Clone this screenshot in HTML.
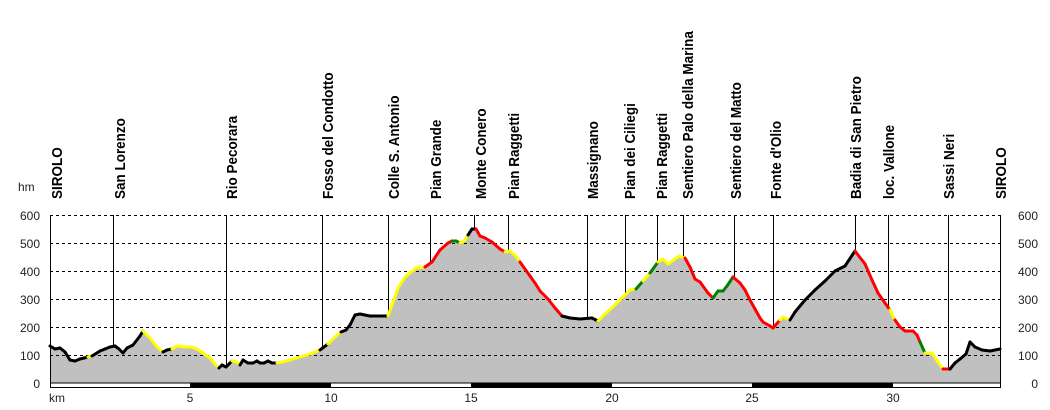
<!DOCTYPE html>
<html><head><meta charset="utf-8"><style>
html,body{margin:0;padding:0;background:#fff;}
svg{display:block;}
.t{font-family:"Liberation Sans",sans-serif;font-size:12px;fill:#222;}
.l{font-family:"Liberation Sans",sans-serif;font-size:15px;font-weight:bold;fill:#000;}
</style></head><body>
<svg width="1050" height="410" viewBox="0 0 1050 410" xmlns="http://www.w3.org/2000/svg">
<rect width="1050" height="410" fill="#fff"/>
<polygon id="fill" fill="#c0c0c0" points=""/>
<g stroke="#000" stroke-width="1" stroke-dasharray="3,3">
<line x1="50" y1="215.5" x2="1000" y2="215.5"/>
<line x1="50" y1="243.5" x2="1000" y2="243.5"/>
<line x1="50" y1="271.5" x2="1000" y2="271.5"/>
<line x1="50" y1="299.5" x2="1000" y2="299.5"/>
<line x1="50" y1="327.5" x2="1000" y2="327.5"/>
<line x1="50" y1="355.5" x2="1000" y2="355.5"/>
</g>
<g id="vl" stroke="#000" stroke-width="1"></g>
<g id="prof" fill="none" stroke-width="3" stroke-linejoin="round" stroke-linecap="round"></g>
<line x1="50.5" y1="215" x2="50.5" y2="388" stroke="#000"/>
<line x1="1000.5" y1="215" x2="1000.5" y2="388" stroke="#000"/>
<rect x="50.5" y="383" width="950" height="4.5" fill="#fff" stroke="#000" stroke-width="1"/>
<rect x="190" y="383" width="141" height="5" fill="#000"/>
<rect x="471" y="383" width="141" height="5" fill="#000"/>
<rect x="752" y="383" width="141" height="5" fill="#000"/>
<g class="t" text-anchor="end">
<text x="40" y="220">600</text><text x="40" y="248">500</text><text x="40" y="276">400</text>
<text x="40" y="304">300</text><text x="40" y="332">200</text><text x="40" y="360">100</text><text x="40" y="388">0</text>
</g>
<g class="t" text-anchor="end">
<text x="1038" y="220">600</text><text x="1038" y="248">500</text><text x="1038" y="276">400</text>
<text x="1038" y="304">300</text><text x="1038" y="332">200</text><text x="1038" y="360">100</text><text x="1038" y="388">0</text>
</g>
<text class="t" x="18" y="191">hm</text>
<g class="t" text-anchor="middle">
<text x="57" y="402">km</text><text x="190" y="402">5</text><text x="331" y="402">10</text>
<text x="471" y="402">15</text><text x="612" y="402">20</text><text x="752" y="402">25</text><text x="893" y="402">30</text>
</g>
<g id="labels"></g>
</svg>
<script>
var P=[[50,346,'k'],[55,349,'k'],[60,348,'k'],[65,352,'k'],[70,360,'k'],[75,361,'k'],[80,359,'k'],[88,357,'y'],[92,356,'k'],[100,351,'k'],[105,349,'k'],[110,347,'k'],[115,346,'k'],[119,349,'k'],[123,353,'k'],[127,348,'k'],[133,345,'k'],[140,336,'k'],[143,331,'y'],[150,338,'y'],[157,347,'y'],[163,352,'k'],[167,350,'k'],[172,349,'y'],[177,346,'y'],[185,347,'y'],[192,347,'y'],[197,349,'y'],[203,353,'y'],[210,358,'y'],[215,364,'y'],[219,368,'k'],[222,365,'k'],[226,367,'k'],[229,364,'k'],[232,361,'y'],[237,362,'y'],[240,365,'k'],[243,360,'k'],[248,363,'k'],[253,363,'k'],[257,361,'k'],[260,363,'k'],[264,363,'k'],[268,361,'k'],[272,363,'k'],[277,363,'y'],[282,362,'y'],[290,360,'y'],[300,357,'y'],[310,354,'y'],[320,350,'k'],[328,344,'y'],[335,337,'y'],[341,332,'k'],[346,330,'k'],[350,325,'k'],[355,315,'k'],[360,314,'k'],[370,316,'k'],[380,316,'k'],[388,316,'y'],[393,302,'y'],[398,288,'y'],[405,277,'y'],[416,268,'y'],[425,267,'r'],[432,262,'r'],[440,250,'r'],[448,243,'r'],[452,241,'g'],[456,241,'g'],[460,243,'y'],[465,240,'y'],[468,235,'k'],[472,229,'k'],[476,229,'r'],[480,236,'r'],[485,238,'r'],[492,242,'r'],[500,249,'r'],[505,252,'y'],[510,251,'y'],[515,255,'y'],[520,262,'r'],[530,276,'r'],[535,283,'r'],[540,291,'r'],[548,299,'r'],[555,308,'r'],[562,316,'k'],[570,318,'k'],[580,319,'k'],[592,318,'k'],[598,321,'y'],[605,314,'y'],[615,305,'y'],[622,298,'y'],[630,290,'y'],[636,289,'g'],[643,281,'y'],[650,273,'g'],[658,262,'y'],[663,259,'y'],[668,264,'y'],[675,259,'y'],[679,256,'y'],[685,258,'r'],[690,267,'r'],[695,279,'r'],[700,282,'r'],[708,293,'r'],[713,298,'g'],[718,291,'g'],[723,291,'g'],[727,286,'g'],[733,277,'r'],[740,283,'r'],[745,290,'r'],[750,300,'r'],[755,309,'r'],[760,318,'r'],[763,322,'r'],[770,326,'r'],[773,328,'r'],[780,320,'y'],[783,317,'y'],[790,320,'k'],[795,312,'k'],[805,300,'k'],[815,290,'k'],[825,281,'k'],[835,271,'k'],[845,266,'k'],[855,251,'r'],[865,264,'r'],[872,280,'r'],[878,293,'r'],[885,303,'r'],[890,310,'y'],[895,320,'r'],[900,327,'r'],[905,331,'r'],[913,331,'r'],[917,335,'r'],[920,342,'g'],[925,353,'y'],[932,353,'y'],[938,362,'y'],[943,369,'r'],[950,369,'k'],[955,363,'k'],[960,359,'k'],[966,354,'k'],[970,342,'k'],[975,347,'k'],[982,350,'k'],[990,351,'k'],[1000,349,'k']];
var C={k:'#000',y:'#ffff00',r:'#ff0000',g:'#008000'};
var pts=P.map(function(p){return p[0]+','+p[1]}).join(' ');
document.getElementById('fill').setAttribute('points','50,383 '+pts+' 1000,383');
var g=document.getElementById('prof'),h='';
for(var i=0;i<P.length-1;i++){h+='<line x1="'+P[i][0]+'" y1="'+P[i][1]+'" x2="'+P[i+1][0]+'" y2="'+P[i+1][1]+'" stroke="'+C[P[i][2]]+'"/>';}
g.innerHTML=h;
function yAt(x){for(var i=0;i<P.length-1;i++){if(x>=P[i][0]&&x<=P[i+1][0]){var t=(x-P[i][0])/(P[i+1][0]-P[i][0]);return P[i][1]+t*(P[i+1][1]-P[i][1]);}}return 349;}
var L=[[50,57,'SIROLO'],[113,120,'San Lorenzo'],[226,232,'Rio Pecorara'],[322,328,'Fosso del Condotto'],[388,394,'Colle S. Antonio'],[430,436,'Pian Grande'],[474,481,'Monte Conero'],[508,514,'Pian Raggetti'],[587,593,'Massignano'],[625,630,'Pian dei Ciliegi'],[657,662,'Pian Raggetti'],[683,688,'Sentiero Palo della Marina'],[734,736,'Sentiero del Matto'],[773,776,'Fonte d\'Olio'],[855,856,'Badia di San Pietro'],[888,889,'loc. Vallone'],[948,949,'Sassi Neri'],[1000,1001,'SIROLO']];
var v='',t='';
L.forEach(function(l){ if(l[0]>50&&l[0]<1000) v+='<line x1="'+(l[0]+0.5)+'" y1="215" x2="'+(l[0]+0.5)+'" y2="'+yAt(l[0])+'"/>';
t+='<text class="l" transform="translate('+(l[1]+5)+',199) rotate(-90) scale(0.9,1)">'+l[2].replace(/'/g,'&#39;')+'</text>';});
document.getElementById('vl').innerHTML=v;
document.getElementById('labels').innerHTML=t;
</script>
</body></html>
